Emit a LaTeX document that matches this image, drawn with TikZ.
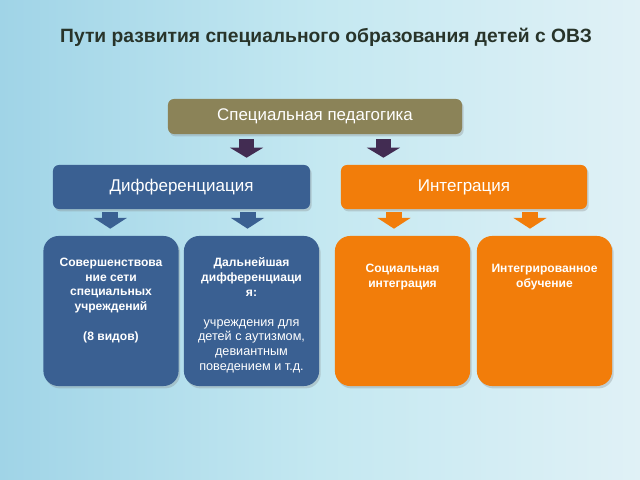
\documentclass[tikz,border=0pt]{standalone}
\usepackage{fontspec}
\setmainfont{Liberation Sans}
\usetikzlibrary{arrows.meta,shadows}
\definecolor{olivebox}{RGB}{139,131,88}
\definecolor{bluebox}{RGB}{58,96,146}
\definecolor{orangebox}{RGB}{242,125,10}
\definecolor{plumarrow}{RGB}{66,44,82}
\definecolor{titletext}{RGB}{40,52,42}
\definecolor{bgleft}{RGB}{160,212,231}
\definecolor{bgmid}{RGB}{196,232,241}
\definecolor{bgright}{RGB}{224,241,246}

\begin{document}
\begin{tikzpicture}[x=0.025cm, y=-0.025cm,
    box/.style={rounded corners=0.15cm, text=white, inner sep=0pt,
        drop shadow={opacity=0.3, shadow xshift=0.04cm, shadow yshift=-0.06cm}},
    card/.style={box, rounded corners=0.38cm, minimum width=3.38cm, minimum height=3.75cm},
    cardtext/.style={anchor=north, align=center, text=white, inner sep=0pt,
        font=\fontsize{8.6}{10.5}\selectfont\bfseries},
    bigarrow/.style={draw=plumarrow, line width=0.37cm,
        -{Triangle[width=0.82cm, length=0.25cm]}, shorten <=0.125cm, shorten >=0.175cm},
    smallarrow/.style={line width=0.4cm,
        -{Triangle[width=0.82cm, length=0.27cm]}, shorten <=0.075cm, shorten >=0.175cm}]

    % background
    \shade[left color=bgleft, right color=bgright, middle color=bgmid] (0,0) rectangle (640,480);
    \useasboundingbox (0,0) rectangle (640,480);

    % title
    \node[text=titletext, font=\fontsize{13.7}{16}\selectfont\bfseries] (title) at (326,37)
        {Пути развития специального образования детей с ОВЗ};

    % upper levels
    \node[box, fill=olivebox, minimum width=7.35cm, minimum height=0.875cm,
        font=\fontsize{12}{14}\selectfont] (ped) at (315,116.5) {Специальная педагогика};
    \node[box, fill=bluebox, minimum width=6.425cm, minimum height=1.1cm,
        font=\fontsize{12.1}{14}\selectfont] (dif) at (181.5,187) {Дифференциация};
    \node[box, fill=orangebox, minimum width=6.15cm, minimum height=1.1cm,
        font=\fontsize{12.1}{14}\selectfont] (integ) at (464,187) {Интеграция};

    % cards
    \node[card, fill=bluebox] (b1) at (111,311) {};
    \node[card, fill=bluebox] (b2) at (251.5,311) {};
    \node[card, fill=orangebox] (b3) at (402.5,311) {};
    \node[card, fill=orangebox] (b4) at (544.5,311) {};

    \node[cardtext] (t1) at ([yshift=-0.55cm]b1.north)
        {Совершенствова\\ние сети\\специальных\\учреждений\\ \mbox{}\\(8 видов)};
    \node[cardtext] (t2) at ([yshift=-0.55cm]b2.north)
        {Дальнейшая\\дифференциаци\\я:\\ \mbox{}\\\fontsize{9}{10.5}\selectfont\mdseries учреждения для\\
         \fontsize{9}{10.5}\selectfont\mdseries детей с аутизмом,\\
         \fontsize{9}{10.5}\selectfont\mdseries девиантным\\
         \fontsize{9}{10.5}\selectfont\mdseries поведением и т.д.};
    \node[cardtext] (t3) at ([yshift=-0.7cm]b3.north) {Социальная\\интеграция};
    \node[cardtext] (t4) at ([yshift=-0.7cm]b4.north) {Интегрированное\\обучение};

    % arrows
    \draw[bigarrow] ([xshift=-1.71cm]ped.south) -- ([xshift=-1.71cm]ped.south |- dif.north);
    \draw[bigarrow] ([xshift=1.71cm]ped.south) -- ([xshift=1.71cm]ped.south |- integ.north);
    \draw[smallarrow, draw=bluebox] ([xshift=-1.78cm]dif.south) -- ([xshift=-1.78cm]dif.south |- b1.north);
    \draw[smallarrow, draw=bluebox] ([xshift=1.65cm]dif.south) -- ([xshift=1.65cm]dif.south |- b2.north);
    \draw[smallarrow, draw=orangebox] ([xshift=-1.75cm]integ.south) -- ([xshift=-1.75cm]integ.south |- b3.north);
    \draw[smallarrow, draw=orangebox] ([xshift=1.65cm]integ.south) -- ([xshift=1.65cm]integ.south |- b4.north);
\end{tikzpicture}
\end{document}
